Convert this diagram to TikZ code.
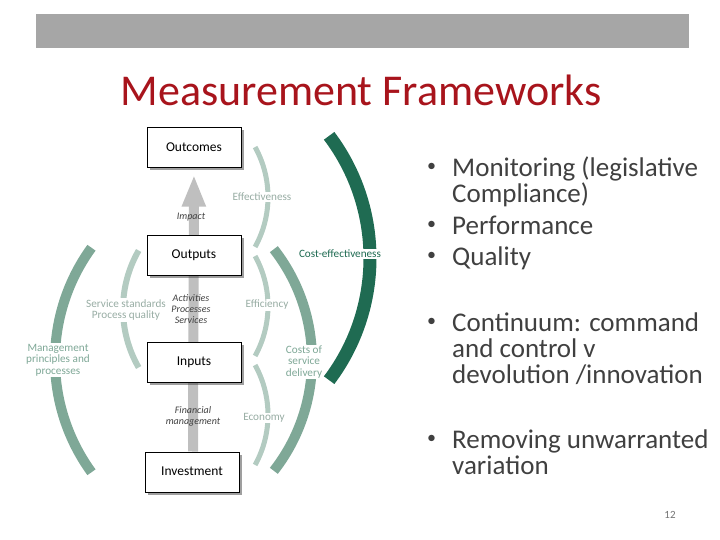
\documentclass[tikz,border=0pt]{standalone}
\usepackage{fontspec}
\setmainfont{Carlito}
\usetikzlibrary{arrows.meta,positioning,shadows,backgrounds}
\definecolor{barGray}{HTML}{A6A6A6}
\definecolor{titleRed}{HTML}{A8141C}
\definecolor{textGray}{HTML}{404040}
\definecolor{arcDark}{HTML}{1F6B52}
\definecolor{arcMid}{HTML}{7FA897}
\definecolor{arcLight}{HTML}{B3CBC1}
\definecolor{flowGray}{HTML}{BFBFBF}
\newcommand{\bulletitem}[1]{\makebox[25pt][l]{\raisebox{5pt}{\fontsize{18}{18}\selectfont\textbullet}}\parbox[t]{260pt}{#1}}

\begin{document}
\begin{tikzpicture}[x=1pt, y=-1pt, >=Latex,
  stage/.style={draw, thin, fill=white, minimum width=94pt, minimum height=40pt, inner sep=2pt,
    font=\fontsize{13.5}{15}\selectfont, text=black,
    drop shadow={shadow xshift=3pt, shadow yshift=-3pt, fill=black!75}},
  note/.style={font=\fontsize{10}{11}\selectfont\itshape, text=textGray, align=center, inner sep=1pt},
  tag/.style={font=\fontsize{11.2}{11.5}\selectfont, align=center, fill=white, inner sep=1pt},
  ring/.style={line width=#1, line cap=butt},
  item/.style={font=\fontsize{27}{26}\selectfont, text=textGray, anchor=base west, inner sep=0pt}]
\useasboundingbox (0,0) rectangle (720,540);
% header
\fill[barGray] (36,14) rectangle (689,48);
\node[font=\fontsize{44}{46}\selectfont, text=titleRed] (title) at (361,90) {Measurement Frameworks};

% stages
\node[stage] (outcomes) at (194,147.5) {Outcomes};
\node[stage, below=67pt of outcomes] (outputs) {Outputs};
\node[stage, below=67pt of outputs] (inputs) {Inputs};
\node[stage, below=69pt of inputs, xshift=-2pt] (invest) {Investment};
\begin{scope}[on background layer]
\draw[flowGray, line width=10pt, -{Triangle[length=32pt, width=22pt]}, shorten >=7pt]
  ([xshift=1pt]invest.north) -- (outcomes.south);
\end{scope}
\node[note] (impact) at (191,217) {Impact};
\node[note] (activ) at (191,309) {Activities\\Processes\\Services};
\node[note] (finance) at (193,416) {Financial\\management};

% arcs
\draw[arcMid, ring=10pt] (246,360) ++(144:191) arc[start angle=144, end angle=216, radius=191];
\draw[arcLight, ring=6pt] (240,309) ++(150:117) arc[start angle=150, end angle=210, radius=117];
\draw[arcLight, ring=5pt] (165,197) ++(-29:103) arc[start angle=-29, end angle=29, radius=103];
\draw[arcLight, ring=5pt] (165,306) ++(-29:103) arc[start angle=-29, end angle=29, radius=103];
\draw[arcLight, ring=5pt] (165,415) ++(-29:103) arc[start angle=-29, end angle=29, radius=103];
\draw[arcMid, ring=10pt] (132,360) ++(-38:180) arc[start angle=-38, end angle=38, radius=180];
\draw[arcDark, ring=13pt] (167,258) ++(-37:203) arc[start angle=-37, end angle=37, radius=203];

% arc labels
\node[tag, text=arcLight!85!black] (effect) at (262,197) {Effectiveness};
\node[tag, text=arcLight!85!black] (effic) at (267,305) {Efficiency};
\node[tag, text=arcLight!85!black] (econ) at (264,418) {Economy};
\node[tag, text=arcMid] (costs) at (304,362) {Costs of\\service\\delivery};
\node[tag, text=arcDark] (costeff) at (340,254) {Cost-effectiveness};
\node[tag, text=arcLight!85!black] (standards) at (126,310) {Service standards\\Process quality};
\node[tag, text=arcMid] (mgmt) at (58,360) {Management\\principles and\\processes};

% bullet points
\node[item] (monitor) at (427,177) {\bulletitem{Monitoring (legislative\\Compliance)}};
\node[item] (perform) at (427,234) {\bulletitem{Performance}};
\node[item] (quality) at (427,265) {\bulletitem{Quality}};
\node[item] (contin) at (427,331) {\bulletitem{Continuum: command\\and control v\\devolution /innovation}};
\node[item] (remove) at (427,448) {\bulletitem{Removing unwarranted\\variation}};
\node[font=\fontsize{11}{12}\selectfont, text=black!55] (page) at (670,515) {12};
\end{tikzpicture}
\end{document}
